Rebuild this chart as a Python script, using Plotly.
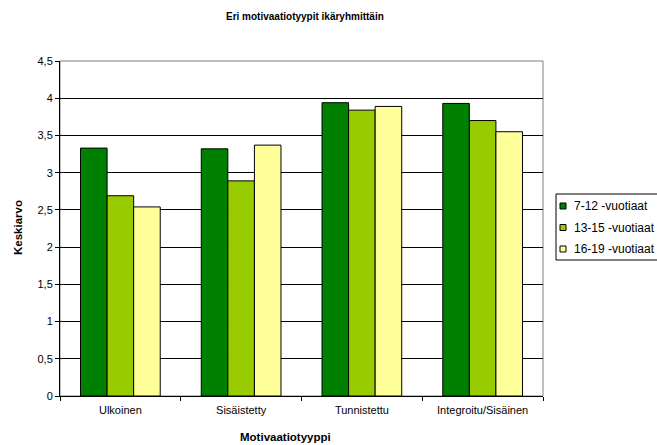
import plotly.graph_objects as go

categories = ["Ulkoinen", "Sisäistetty", "Tunnistettu", "Integroitu/Sisäinen"]
series_names = ["7-12 -vuotiaat", "13-15 -vuotiaat", "16-19 -vuotiaat"]
v_7_12 = [3.33, 3.32, 3.94, 3.93]
v_13_15 = [2.69, 2.89, 3.84, 3.70]
v_16_19 = [2.54, 3.37, 3.89, 3.55]
colors = ["#008000", "#99CC00", "#FFFF99"]
y_ticks = [0, 0.5, 1, 1.5, 2, 2.5, 3, 3.5, 4, 4.5]
y_tick_labels = ["0", "0,5", "1", "1,5", "2", "2,5", "3", "3,5", "4", "4,5"]

FONT = "Liberation Sans, Arial, sans-serif"

fig = go.Figure()
for name, vals, col in zip(series_names, [v_7_12, v_13_15, v_16_19], colors):
    fig.add_trace(go.Bar(
        x=categories, y=vals, name=name, showlegend=False,
        marker=dict(color=col, line=dict(color="black", width=1)),
    ))

W, H = 657, 445
L, R, T, B = 60, 114, 61, 49
PW, PH = W - L - R, H - T - B


def px(x):
    return (x - L) / PW


def py(y):
    return (H - B - y) / PH


shapes = [dict(type="rect", xref="paper", yref="paper", x0=0, x1=1, y0=0, y1=1,
               line=dict(color="#808080", width=1), layer="below")]
annotations = [
    dict(text="<b>Eri motivaatiotyypit ikäryhmittäin</b>", xref="paper", yref="paper",
         x=px(305), y=py(16), showarrow=False,
         font=dict(family=FONT, size=10, color="black"),
         xanchor="center", yanchor="middle"),
    dict(text="<b>Motivaatiotyyppi</b>", xref="paper", yref="paper",
         x=px(285), y=py(437), showarrow=False,
         font=dict(family=FONT, size=11.5, color="black"),
         xanchor="center", yanchor="middle"),
    dict(text="<b>Keskiarvo</b>", xref="paper", yref="paper",
         x=px(18), y=py(228), showarrow=False, textangle=-90,
         font=dict(family=FONT, size=11.5, color="black"),
         xanchor="center", yanchor="middle"),
]

# custom legend box (Excel style)
shapes.append(dict(type="rect", xref="paper", yref="paper",
                   x0=px(556), x1=px(660), y0=py(260), y1=py(194),
                   line=dict(color="black", width=1), fillcolor="white", layer="above"))
row_y = [206, 227.5, 249]
for name, col, ry in zip(series_names, colors, row_y):
    shapes.append(dict(type="rect", xref="paper", yref="paper",
                       x0=px(560), x1=px(566), y0=py(ry + 3), y1=py(ry - 3),
                       line=dict(color="black", width=1), fillcolor=col, layer="above"))
    annotations.append(dict(text=name, xref="paper", yref="paper",
                            x=px(571.5), y=py(ry), showarrow=False,
                            font=dict(family=FONT, size=12, color="black"),
                            xanchor="left", yanchor="middle"))

fig.update_layout(
    width=W, height=H,
    margin=dict(l=L, r=R, t=T, b=B, autoexpand=False),
    paper_bgcolor="white", plot_bgcolor="white",
    barmode="group", bargap=0.34, bargroupgap=0,
    font=dict(family=FONT, size=11, color="black"),
    showlegend=False,
    xaxis=dict(
        type="category", showgrid=False,
        showline=True, linecolor="black", linewidth=1,
        ticks="outside", tickson="boundaries", ticklen=4, tickcolor="black",
        tickfont=dict(family=FONT, size=11, color="black"),
        ticklabelstandoff=4,
    ),
    yaxis=dict(
        range=[0, 4.5], tickvals=y_ticks, ticktext=y_tick_labels,
        showgrid=True, gridcolor="black", gridwidth=1,
        showline=True, linecolor="black", linewidth=1,
        ticks="outside", ticklen=4, tickcolor="black",
        tickfont=dict(family=FONT, size=11, color="black"),
        zeroline=False,
    ),
    shapes=shapes,
    annotations=annotations,
)

fig.write_html("out.html", config={"displayModeBar": False},
               post_script="document.body.style.margin='0';document.body.style.overflow='hidden';")
